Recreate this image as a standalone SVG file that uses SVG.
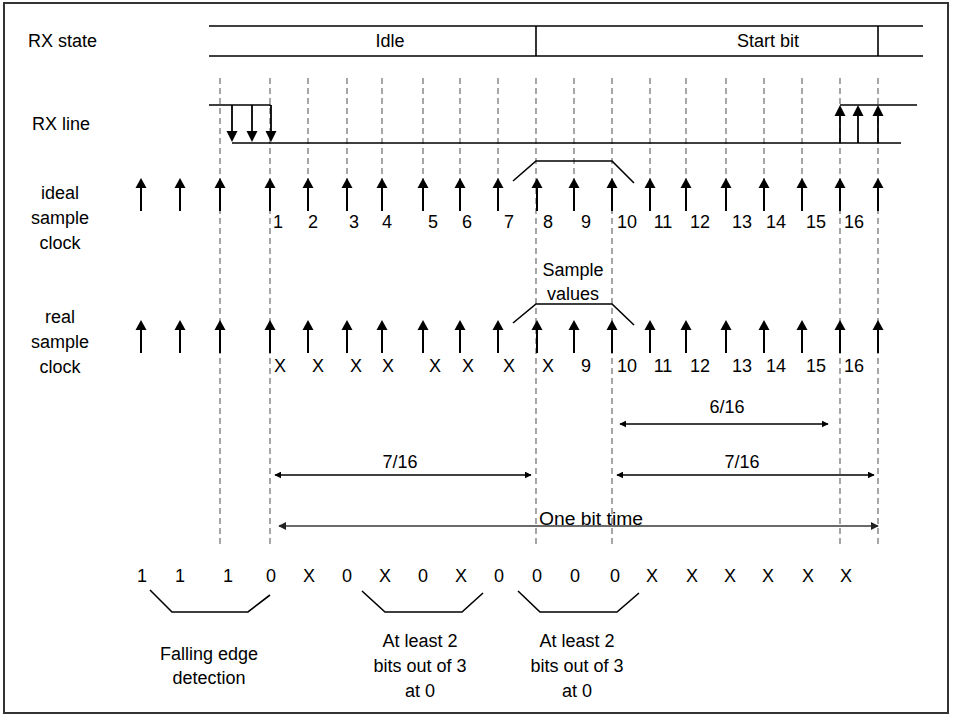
<svg xmlns="http://www.w3.org/2000/svg" xmlns:xlink="http://www.w3.org/1999/xlink" width="953" height="717" viewBox="0 0 953 717">
<style>
text{font-family:"Liberation Sans",Arial,sans-serif;font-size:18px;fill:#000}
.c{text-anchor:middle}
.dash{stroke:#808080;stroke-width:1.4;stroke-dasharray:6,4;fill:none}
.ln{stroke:#000;stroke-width:1.6;fill:none}
.dim{stroke:#000;stroke-width:1.3;fill:none;marker-start:url(#ah);marker-end:url(#ah)}
.dimg{stroke:#3a3a3a;stroke-width:1.6;fill:none;marker-start:url(#ahg);marker-end:url(#ahg)}
</style>
<defs>
<marker id="ah" viewBox="0 0 10 10" refX="9" refY="5" markerWidth="7" markerHeight="7" markerUnits="userSpaceOnUse" orient="auto-start-reverse"><path d="M0,0 L10,5 L0,10 Z" fill="#000"/></marker>
<marker id="ahg" viewBox="0 0 10 10" refX="9" refY="5" markerWidth="8" markerHeight="8" markerUnits="userSpaceOnUse" orient="auto-start-reverse"><path d="M0,0 L10,5 L0,10 Z" fill="#222"/></marker>
<g id="clk"><line x1="0" y1="8" x2="0" y2="33" stroke="#000" stroke-width="2"/><path d="M0,0 L-5.5,10 L5.5,10 Z" fill="#000"/></g>
<g id="dn"><line x1="0" y1="0" x2="0" y2="28" stroke="#000" stroke-width="1.8"/><path d="M0,37 L-5.5,26 L5.5,26 Z" fill="#000"/></g>
<g id="up"><line x1="0" y1="0" x2="0" y2="-28" stroke="#000" stroke-width="1.8"/><path d="M0,-38 L-5.5,-27 L5.5,-27 Z" fill="#000"/></g>
</defs>
<rect x="4" y="3" width="944" height="710" fill="#fff" stroke="#333" stroke-width="2"/>

<g id="labels">
<text x="28" y="47">RX state</text>
<text x="32" y="130">RX line</text>
<text class="c" x="60" y="199">ideal</text>
<text class="c" x="60" y="224">sample</text>
<text class="c" x="60" y="249">clock</text>
<text class="c" x="60" y="323">real</text>
<text class="c" x="60" y="348">sample</text>
<text class="c" x="60" y="373">clock</text>
</g>

<g id="rx-state">
<line class="ln" x1="209" y1="26" x2="923" y2="26"/>
<line class="ln" x1="209" y1="56" x2="923" y2="56"/>
<line class="ln" x1="536" y1="26" x2="536" y2="56"/>
<line class="ln" x1="878" y1="26" x2="878" y2="56"/>
<text class="c" x="390" y="47">Idle</text>
<text class="c" x="768" y="47">Start bit</text>
</g>

<g id="grid">
<line class="dash" x1="220" y1="78" x2="220" y2="546"/>
<line class="dash" x1="270" y1="78" x2="270" y2="546"/>
<line class="dash" x1="536" y1="78" x2="536" y2="546"/>
<line class="dash" x1="612" y1="78" x2="612" y2="546"/>
<line class="dash" x1="840" y1="78" x2="840" y2="546"/>
<line class="dash" x1="878" y1="78" x2="878" y2="546"/>
<line class="dash" x1="308" y1="78" x2="308" y2="180"/>
<line class="dash" x1="347" y1="78" x2="347" y2="180"/>
<line class="dash" x1="382" y1="78" x2="382" y2="180"/>
<line class="dash" x1="423" y1="78" x2="423" y2="180"/>
<line class="dash" x1="460" y1="78" x2="460" y2="180"/>
<line class="dash" x1="498" y1="78" x2="498" y2="180"/>
<line class="dash" x1="574" y1="78" x2="574" y2="180"/>
<line class="dash" x1="650" y1="78" x2="650" y2="180"/>
<line class="dash" x1="686" y1="78" x2="686" y2="180"/>
<line class="dash" x1="726" y1="78" x2="726" y2="180"/>
<line class="dash" x1="764" y1="78" x2="764" y2="180"/>
<line class="dash" x1="802" y1="78" x2="802" y2="180"/>
</g>

<g id="rx-line">
<polyline class="ln" points="209,105 270,105 270,106"/>
<line class="ln" x1="232" y1="143" x2="901" y2="143"/>
<line class="ln" x1="840" y1="105" x2="917" y2="105"/>
<use xlink:href="#dn" x="232" y="105"/>
<use xlink:href="#dn" x="252" y="105"/>
<use xlink:href="#dn" x="271" y="105"/>
<use xlink:href="#up" x="840" y="143"/>
<use xlink:href="#up" x="858" y="143"/>
<use xlink:href="#up" x="878" y="143"/>
</g>

<g id="ideal-clock">
<use xlink:href="#clk" x="141" y="178"/><use xlink:href="#clk" x="180" y="178"/><use xlink:href="#clk" x="220" y="178"/><use xlink:href="#clk" x="270" y="178"/>
<use xlink:href="#clk" x="308" y="178"/><use xlink:href="#clk" x="347" y="178"/><use xlink:href="#clk" x="382" y="178"/><use xlink:href="#clk" x="423" y="178"/>
<use xlink:href="#clk" x="460" y="178"/><use xlink:href="#clk" x="498" y="178"/><use xlink:href="#clk" x="537" y="178"/><use xlink:href="#clk" x="574" y="178"/>
<use xlink:href="#clk" x="612" y="178"/><use xlink:href="#clk" x="650" y="178"/><use xlink:href="#clk" x="686" y="178"/><use xlink:href="#clk" x="726" y="178"/>
<use xlink:href="#clk" x="764" y="178"/><use xlink:href="#clk" x="802" y="178"/><use xlink:href="#clk" x="840" y="178"/><use xlink:href="#clk" x="878" y="178"/>
<text class="c" x="278" y="228">1</text><text class="c" x="313" y="228">2</text><text class="c" x="354" y="228">3</text><text class="c" x="387" y="228">4</text>
<text class="c" x="433" y="228">5</text><text class="c" x="467" y="228">6</text><text class="c" x="509" y="228">7</text><text class="c" x="548" y="228">8</text>
<text class="c" x="586" y="228">9</text><text class="c" x="627" y="228">10</text><text class="c" x="663" y="228">11</text><text class="c" x="700" y="228">12</text>
<text class="c" x="742" y="228">13</text><text class="c" x="776" y="228">14</text><text class="c" x="816" y="228">15</text><text class="c" x="854" y="228">16</text>
<polyline class="ln" points="513,181 536,161 612,161 634,183"/>
</g>

<g id="sample-values">
<text class="c" x="573" y="276">Sample</text>
<text class="c" x="573" y="300">values</text>
</g>

<g id="real-clock">
<use xlink:href="#clk" x="141" y="320"/><use xlink:href="#clk" x="180" y="320"/><use xlink:href="#clk" x="220" y="320"/><use xlink:href="#clk" x="270" y="320"/>
<use xlink:href="#clk" x="308" y="320"/><use xlink:href="#clk" x="347" y="320"/><use xlink:href="#clk" x="382" y="320"/><use xlink:href="#clk" x="423" y="320"/>
<use xlink:href="#clk" x="460" y="320"/><use xlink:href="#clk" x="498" y="320"/><use xlink:href="#clk" x="537" y="320"/><use xlink:href="#clk" x="574" y="320"/>
<use xlink:href="#clk" x="612" y="320"/><use xlink:href="#clk" x="650" y="320"/><use xlink:href="#clk" x="686" y="320"/><use xlink:href="#clk" x="726" y="320"/>
<use xlink:href="#clk" x="764" y="320"/><use xlink:href="#clk" x="802" y="320"/><use xlink:href="#clk" x="840" y="320"/><use xlink:href="#clk" x="878" y="320"/>
<text class="c" x="280" y="372">X</text><text class="c" x="318" y="372">X</text><text class="c" x="356" y="372">X</text><text class="c" x="388" y="372">X</text>
<text class="c" x="435" y="372">X</text><text class="c" x="468" y="372">X</text><text class="c" x="509" y="372">X</text><text class="c" x="548" y="372">X</text>
<text class="c" x="586" y="372">9</text><text class="c" x="627" y="372">10</text><text class="c" x="663" y="372">11</text><text class="c" x="700" y="372">12</text>
<text class="c" x="742" y="372">13</text><text class="c" x="776" y="372">14</text><text class="c" x="816" y="372">15</text><text class="c" x="854" y="372">16</text>
<polyline class="ln" points="513,323 536,304 612,304 634,325"/>
</g>

<g id="connectors">
<line class="dim" x1="620" y1="424" x2="828" y2="424"/>
<line class="dim" x1="275" y1="475" x2="531" y2="475"/>
<line class="dim" x1="617" y1="475" x2="874" y2="475"/>
<line class="dimg" x1="279" y1="526" x2="878" y2="526"/>
</g>

<g id="dim-labels">
<text class="c" x="727" y="413">6/16</text>
<text class="c" x="400" y="468">7/16</text>
<text class="c" x="742" y="468">7/16</text>
<text x="539" y="525" textLength="104" lengthAdjust="spacingAndGlyphs">One bit time</text>
</g>

<g id="bits">
<text class="c" x="142" y="582">1</text><text class="c" x="180" y="582">1</text><text class="c" x="228" y="582">1</text><text class="c" x="271" y="582">0</text>
<text class="c" x="309" y="582">X</text><text class="c" x="347" y="582">0</text><text class="c" x="385" y="582">X</text><text class="c" x="423" y="582">0</text>
<text class="c" x="461" y="582">X</text><text class="c" x="499" y="582">0</text><text class="c" x="537" y="582">0</text><text class="c" x="575" y="582">0</text>
<text class="c" x="615" y="582">0</text><text class="c" x="652" y="582">X</text><text class="c" x="692" y="582">X</text><text class="c" x="730" y="582">X</text>
<text class="c" x="768" y="582">X</text><text class="c" x="808" y="582">X</text><text class="c" x="846" y="582">X</text>
</g>

<g id="falling-edge">
<polyline class="ln" points="150,590 172,612 248,612 270,595"/>
<text class="c" x="209" y="660">Falling edge</text>
<text class="c" x="209" y="684">detection</text>
</g>
<g id="vote-1">
<polyline class="ln" points="362,591 385,612 462,612 483,593"/>
<text class="c" x="420" y="647">At least 2</text>
<text class="c" x="420" y="672">bits out of 3</text>
<text class="c" x="420" y="697">at 0</text>
</g>
<g id="vote-2">
<polyline class="ln" points="518,591 540,612 617,612 639,593"/>
<text class="c" x="577" y="647">At least 2</text>
<text class="c" x="577" y="672">bits out of 3</text>
<text class="c" x="577" y="697">at 0</text>
</g>
</svg>
